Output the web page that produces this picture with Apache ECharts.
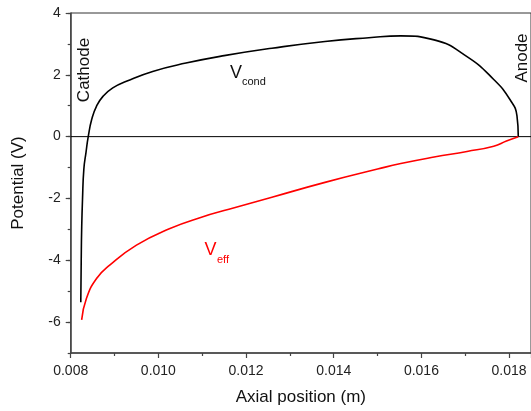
<!DOCTYPE html>
<html>
<head>
<meta charset="utf-8">
<script src="https://cdn.jsdelivr.net/npm/echarts@6/dist/echarts.min.js"></script>
<style>html,body{margin:0;padding:0;background:#fff;}#c{width:531px;height:411px;}</style>
</head>
<body>
<div id="c"></div>
<script>
// Vcond (black) curve
var xCond = [0.00823,0.00824,0.00825,0.00827,0.0083,0.00835,0.0084,0.00848,0.00859,0.00874,0.00896,0.00927,0.00987,0.01063,0.01150,0.01259,0.0138,0.0148,0.01553,0.01629,0.01704,0.01765,0.01802,0.01818,0.01821];
var yCond = [-5.36,-4.0,-3.0,-2.0,-1.05,-0.5,0,0.56,0.99,1.31,1.58,1.79,2.11,2.38,2.62,2.86,3.08,3.2,3.26,3.13,2.59,1.85,1.2,0.67,0.0];
// Veff (red) curve
var xEff = [0.00825,0.00836,0.00859,0.00889,0.0095,0.01025,0.011,0.01161,0.01259,0.0138,0.015,0.01553,0.01629,0.01704,0.01765,0.01794,0.01821];
var yEff = [-5.93,-5.23,-4.59,-4.16,-3.51,-2.98,-2.6,-2.35,-1.96,-1.48,-1.05,-0.87,-0.66,-0.48,-0.31,-0.14,0];
// ticks
var yTickLabels = [-6,-4,-2,0,2,4];
var xTitle = 'Axial position (m)';
var yTitle = 'Potential (V)';

function zip(a,b){return a.map(function(v,i){return [v,b[i]];});}
var FF = "'Liberation Sans', Arial, sans-serif";
var axisCol = '#444';

var chart = echarts.init(document.getElementById('c'), null, {renderer:'canvas'});
chart.setOption({
  animation:false,
  backgroundColor:'#fff',
  grid:{left:70.7,top:13,right:-3,bottom:56,show:true,borderColor:'#333',borderWidth:1,backgroundColor:'transparent'},
  xAxis:[{
    type:'value',min:0.008,max:0.0185,interval:0.002,
    axisLine:{show:true,onZero:false,lineStyle:{color:axisCol,width:1.5}},
    axisTick:{show:true,inside:false,length:5,lineStyle:{color:axisCol,width:1.2}},
    minorTick:{show:true,splitNumber:2,length:3,lineStyle:{color:axisCol,width:1.2}},
    splitLine:{show:false},
    axisLabel:{show:true,margin:11,fontSize:14,fontFamily:FF,color:'#222',showMaxLabel:false,
      formatter:function(v){return v.toFixed(3);}},
    name:xTitle,nameLocation:'middle',nameGap:36,
    nameTextStyle:{fontSize:17,fontFamily:FF,color:'#111'}
  }],
  yAxis:[{
    type:'value',min:-7,max:4,
    axisLine:{show:true,onZero:false,lineStyle:{color:axisCol,width:1.5}},
    axisTick:{show:true,length:5,customValues:yTickLabels,lineStyle:{color:axisCol,width:1.2}},
    splitLine:{show:false},
    axisLabel:{show:true,margin:10,fontSize:14,fontFamily:FF,color:'#222',customValues:yTickLabels},
    name:yTitle,nameLocation:'middle',nameGap:44,
    nameTextStyle:{fontSize:17,fontFamily:FF,color:'#111'}
  },{
    type:'value',min:-7,max:4,interval:1,position:'left',
    axisLine:{show:false},
    axisTick:{show:true,length:3,lineStyle:{color:axisCol,width:1.2}},
    axisLabel:{show:false},splitLine:{show:false}
  }],
  series:[{
    type:'line',name:'zero',data:[[0.008,0],[0.0185,0]],showSymbol:false,
    lineStyle:{color:'#000',width:1}
  },{
    type:'line',name:'Vcond',data:zip(xCond,yCond),showSymbol:false,smooth:0.5,
    lineStyle:{color:'#000',width:1.6},z:3
  },{
    type:'line',name:'Veff',data:zip(xEff,yEff),showSymbol:false,smooth:0.5,
    lineStyle:{color:'#ff0000',width:1.6},z:3
  }],
  graphic:[
    {type:'text',x:84,y:70,rotation:Math.PI/2,style:{text:'Cathode',font:'17px '+FF,fill:'#111',align:'center',verticalAlign:'middle'}},
    {type:'text',x:522,y:58,rotation:Math.PI/2,style:{text:'Anode',font:'17px '+FF,fill:'#111',align:'center',verticalAlign:'middle'}},
    {type:'text',x:230,y:73.5,style:{text:'V',font:'18px '+FF,fill:'#111',align:'left',verticalAlign:'middle'}},
    {type:'text',x:242,y:82,style:{text:'cond',font:'11px '+FF,fill:'#111',align:'left',verticalAlign:'middle'}},
    {type:'text',x:204.5,y:250,style:{text:'V',font:'18px '+FF,fill:'#ff0000',align:'left',verticalAlign:'middle'}},
    {type:'text',x:217,y:260,style:{text:'eff',font:'11px '+FF,fill:'#ff0000',align:'left',verticalAlign:'middle'}}
  ]
});
</script>
</body>
</html>
